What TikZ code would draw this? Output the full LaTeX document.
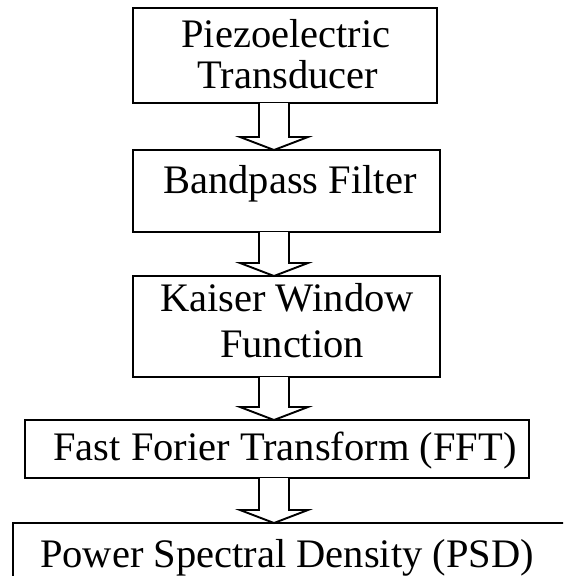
\documentclass[tikz,border=0pt]{standalone}
\usepackage{fontspec}
\setmainfont{Liberation Serif}
\usetikzlibrary{calc}
\tikzset{
  boxnode/.style={draw=black, line width=2.3pt, rectangle, inner sep=0pt, outer sep=0pt, fill=white},
  txt/.style={inner sep=0pt, anchor=base, font=\fontsize{40.5}{48}\selectfont},
  arrowline/.style={draw=black, line width=1.9pt, line join=miter, fill=white},
}
\newcommand\hollowarrow[2]{%
  \draw[arrowline] ($(ax|-#1.south)+(-15,0)$) -- ($(ax|-#2.north)+(-15,-13)$) -- ($(ax|-#2.north)+(-34,-13)$) -- (ax|-#2.north) -- ($(ax|-#2.north)+(34,-13)$) -- ($(ax|-#2.north)+(15,-13)$) -- ($(ax|-#1.south)+(15,0)$);}
\begin{document}
\begin{tikzpicture}[x=1pt,y=-1pt]
\useasboundingbox (0,0) rectangle (563,576);
\clip (0,0) rectangle (563,576);
\fill[white] (0,0) rectangle (563,576);
\coordinate (ax) at (274,0);
% boxes
\node[boxnode, minimum width=304pt, minimum height=95pt] (b1) at (285,55.5) {};
\node[boxnode, minimum width=307pt, minimum height=82pt] (b2) at (286.5,191) {};
\node[boxnode, minimum width=307pt, minimum height=101pt] (b3) at (286.5,326.5) {};
\node[boxnode, minimum width=504pt, minimum height=58pt] (b4) at (277,449) {};
\node[boxnode, minimum width=590pt, minimum height=118pt] (b5) at (308,582) {};
% texts
\node[txt] (t1a) at (286,47) {Piezoelectric};
\node[txt] (t1b) at (288,88) {Transducer};
\node[txt] (t2) at (290,193) {Bandpass Filter};
\node[txt] (t3a) at (287,311) {Kaiser Window};
\node[txt] (t3b) at (292,357) {Function};
\node[txt] (t4) at (285,460) {Fast Forier Transform (FFT)};
\node[txt] (t5) at (287,567) {Power Spectral Density (PSD)};
% arrows
\hollowarrow{b1}{b2}
\hollowarrow{b2}{b3}
\hollowarrow{b3}{b4}
\hollowarrow{b4}{b5}
\end{tikzpicture}
\end{document}
